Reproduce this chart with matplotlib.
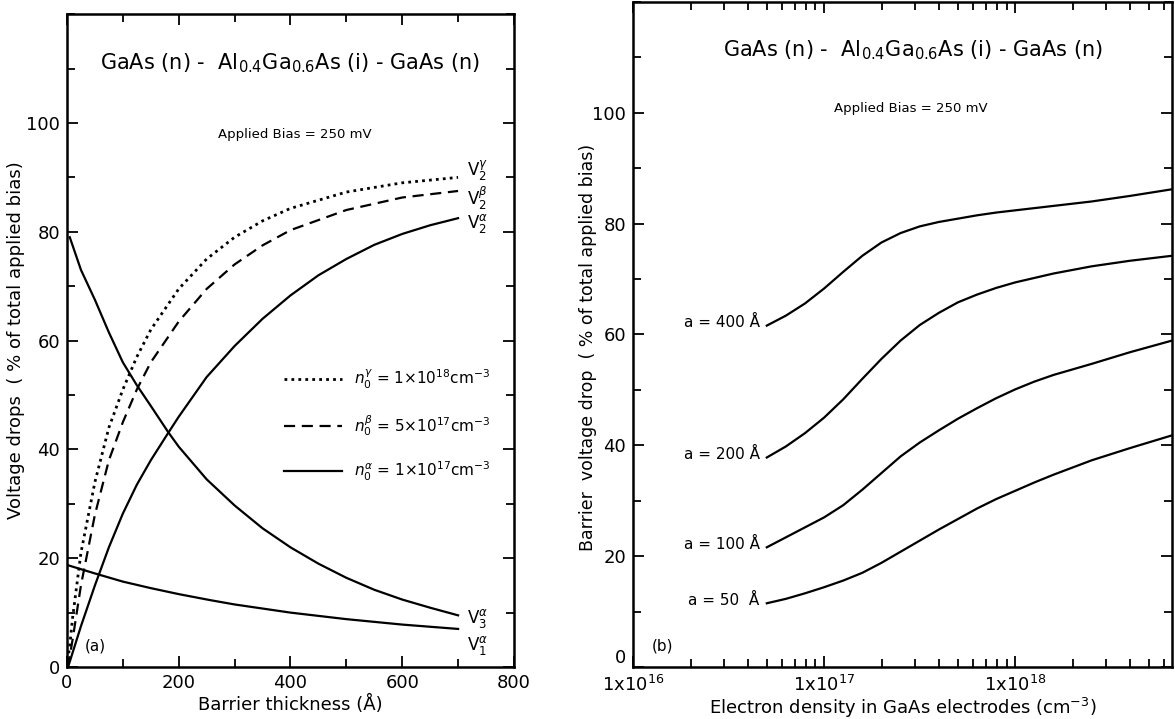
import matplotlib.pyplot as plt
from matplotlib.ticker import MultipleLocator, LogLocator, NullFormatter, FixedLocator

# (a) voltage drops vs barrier thickness (Angstrom)
x_g = [0, 5, 10, 25, 50, 75, 100, 125, 150, 200, 250, 300, 350, 400, 500, 600, 700]
v2_gamma = [0, 4, 9, 21, 34, 44, 51, 57, 62, 69.5, 75, 79, 82, 84.3, 87.3, 89, 90]
v2_beta = [0, 2, 5, 15, 28, 38, 45, 51, 56, 63.5, 69.5, 74, 77.5, 80.3, 84, 86.3, 87.5]

x_a = [2, 25, 50, 75, 100, 125, 150, 181, 200, 250, 300, 350, 400, 450, 500, 550, 600, 650, 700]
v2_alpha = [0, 7.5, 15, 22, 28.2, 33.5, 38, 43, 46, 53.3, 59, 64, 68.3, 72, 75, 77.6, 79.6, 81.2, 82.5]
x_3 = [5, 15, 25, 50, 75, 100, 125, 150, 181, 200, 250, 300, 350, 400, 450, 500, 550, 600, 650, 700]
v3_alpha = [79, 76, 73, 67.5, 61.5, 56, 51.8, 48, 43.2, 40.5, 34.5, 29.7, 25.5, 22, 19, 16.4, 14.2, 12.4, 10.9, 9.5]
x_1 = [2, 50, 100, 150, 200, 256, 300, 400, 500, 600, 700]
v1_alpha = [18.7, 17.2, 15.7, 14.5, 13.4, 12.3, 11.5, 10.0, 8.8, 7.8, 7.0]

legend_labels = [r'$n_0^\gamma$ = 1×10$^{18}$cm$^{-3}$',
                 r'$n_0^\beta$ = 5×10$^{17}$cm$^{-3}$',
                 r'$n_0^\alpha$ = 1×10$^{17}$cm$^{-3}$']

# (b) barrier voltage drop vs electron density, density given as log10(cm^-3)
log_dens = [16.7, 16.8, 16.9, 17.0, 17.1, 17.2, 17.3, 17.4, 17.5, 17.6, 17.7, 17.8, 17.9,
            18.0, 18.1, 18.2, 18.4, 18.6, 18.82]
drop_400 = [61.6, 63.4, 65.6, 68.3, 71.3, 74.2, 76.6, 78.3, 79.5, 80.3, 80.9, 81.5, 82.0,
            82.4, 82.8, 83.2, 84.0, 85.0, 86.2]
drop_200 = [37.8, 39.8, 42.2, 45.0, 48.3, 52.0, 55.6, 58.9, 61.7, 63.9, 65.8, 67.2, 68.4,
            69.4, 70.2, 71.0, 72.3, 73.3, 74.2]
drop_100 = [21.6, 23.4, 25.2, 27.0, 29.2, 32.0, 35.0, 38.0, 40.5, 42.7, 44.8, 46.7, 48.5,
            50.1, 51.5, 52.7, 54.7, 56.8, 58.9]
drop_50 = [11.5, 12.3, 13.3, 14.4, 15.6, 17.0, 18.8, 20.8, 22.8, 24.8, 26.7, 28.6, 30.3,
           31.8, 33.3, 34.7, 37.3, 39.5, 41.8]
a_labels = ['a = 400 Å', 'a = 200 Å', 'a = 100 Å', 'a = 50  Å']

title = r'GaAs (n) -  Al$_{0.4}$Ga$_{0.6}$As (i) - GaAs (n)'

plt.rcParams['font.family'] = ['DejaVu Sans']
fig = plt.figure(figsize=(11.75, 7.19), dpi=100)
ax1 = fig.add_axes([0.057, 0.0723, 0.3804, 0.908])
ax2 = fig.add_axes([0.5387, 0.0723, 0.4587, 0.925])

lw = 1.6
ax1.plot(x_g, v2_gamma, color='black', lw=lw + 0.4, ls=(0, (1, 1.5)), label=legend_labels[0])
ax1.plot(x_g, v2_beta, color='black', lw=lw, ls=(0, (5, 3)), label=legend_labels[1])
ax1.plot(x_a, v2_alpha, color='black', lw=lw, label=legend_labels[2])
ax1.plot(x_3, v3_alpha, color='black', lw=lw)
ax1.plot(x_1, v1_alpha, color='black', lw=lw)

ax1.set_xlim(0, 800)
ax1.set_ylim(0, 120)
ax1.xaxis.set_major_locator(MultipleLocator(200))
ax1.xaxis.set_minor_locator(MultipleLocator(100))
ax1.yaxis.set_major_locator(FixedLocator([0, 20, 40, 60, 80, 100]))
ax1.yaxis.set_minor_locator(MultipleLocator(10))

lab_kw = dict(fontsize=12)
ax1.text(716, v2_gamma[-1] + 1.3, r'V$_2^\gamma$', **lab_kw, va='center')
ax1.text(716, v2_beta[-1] - 1.3, r'V$_2^\beta$', **lab_kw, va='center')
ax1.text(716, v2_alpha[-1] - 1.0, r'V$_2^\alpha$', **lab_kw, va='center')
ax1.text(716, v3_alpha[-1] - 0.5, r'V$_3^\alpha$', **lab_kw, va='center')
ax1.text(716, v1_alpha[-1] - 3.0, r'V$_1^\alpha$', **lab_kw, va='center')
ax1.text(0.5, 0.925, title, transform=ax1.transAxes, ha='center', va='center', fontsize=15)
ax1.text(0.51, 0.815, 'Applied Bias = 250 mV', transform=ax1.transAxes, ha='center', va='center', fontsize=9.5)
ax1.text(0.04, 0.025, '(a)', transform=ax1.transAxes, fontsize=11)
ax1.legend(loc='upper left', bbox_to_anchor=(0.455, 0.48), frameon=False, fontsize=11,
           handlelength=3.8, labelspacing=1.45, handletextpad=0.8)
ax1.set_xlabel('Barrier thickness (Å)', fontsize=13, labelpad=2)
ax1.set_ylabel('Voltage drops  ( % of total applied bias)', fontsize=13)
ax1.yaxis.set_label_coords(-0.095, 0.5)

dens = [10 ** e for e in log_dens]
for y, lab in zip([drop_400, drop_200, drop_100, drop_50], a_labels):
    ax2.plot(dens, y, color='black', lw=lw)
    ax2.text(4.6e16, y[0] + 0.5, lab, ha='right', va='center', fontsize=11)

ax2.set_xscale('log')
ax2.set_xlim(1e16, 6.6e18)
ax2.set_ylim(0, 120)
ax2.xaxis.set_major_locator(FixedLocator([1e16, 1e17, 1e18]))
ax2.xaxis.set_minor_locator(LogLocator(base=10, subs=range(2, 10)))
ax2.xaxis.set_minor_formatter(NullFormatter())
ax2.set_xticklabels([r'1x10$^{16}$', r'1x10$^{17}$', r'1x10$^{18}$'])
ax2.yaxis.set_major_locator(FixedLocator([0, 20, 40, 60, 80, 100]))
ax2.yaxis.set_minor_locator(MultipleLocator(10))
ax2.text(0.52, 0.928, title, transform=ax2.transAxes, ha='center', va='center', fontsize=15)
ax2.text(0.515, 0.84, 'Applied Bias = 250 mV', transform=ax2.transAxes, ha='center', va='center', fontsize=9.5)
ax2.text(0.035, 0.025, '(b)', transform=ax2.transAxes, fontsize=11)
ax2.set_xlabel('Electron density in GaAs electrodes (cm$^{-3}$)', fontsize=13, labelpad=0)
ax2.set_ylabel('Barrier  voltage drop  ( % of total applied bias)', fontsize=12.5)
ax2.yaxis.set_label_coords(-0.066, 0.48)

for ax in (ax1, ax2):
    for s in ax.spines.values():
        s.set_linewidth(1.8)
    ax.tick_params(which='both', direction='in', top=True, right=True, width=1.3, labelsize=13, pad=5)
    ax.tick_params(which='major', length=8)
    ax.tick_params(which='minor', length=6)
ax2.tick_params(axis='x', which='both', pad=6)

# lift the "0" of panel (b) a little so it clears the 1x10^16 label below it
fig.canvas.draw()
ax2.get_yticklabels()[0].set_va('bottom')

fig.savefig('out.png', dpi=100)
